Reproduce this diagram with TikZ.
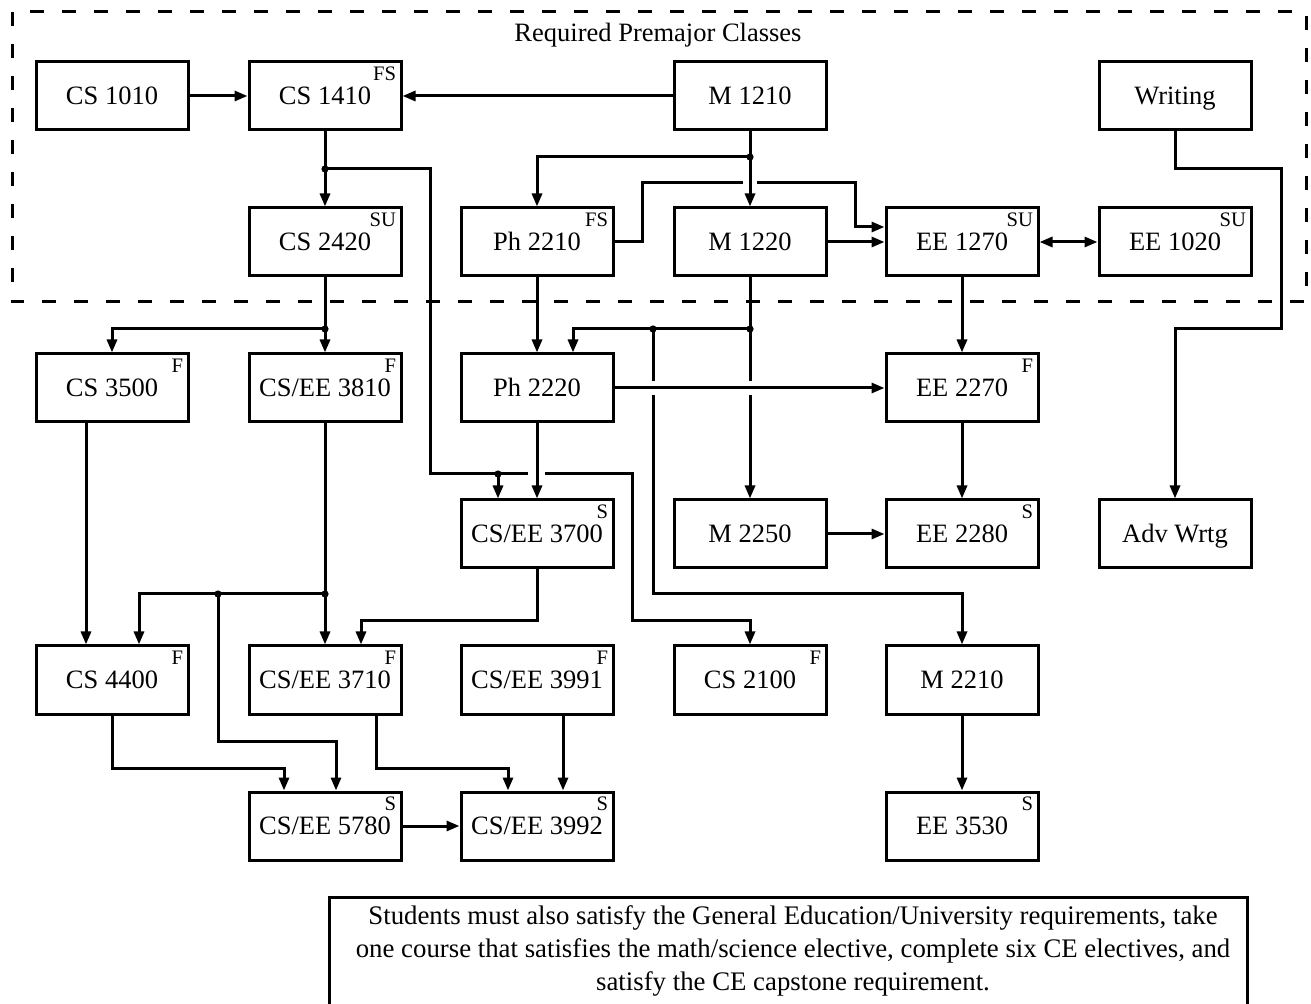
\documentclass[tikz,border=0pt]{standalone}
\usepackage{fontspec}
\setmainfont{Liberation Serif}
\usetikzlibrary{arrows.meta,calc}
\begin{document}
\begin{tikzpicture}[x=0.5pt,y=-0.5pt,
  every path/.style={line width=1.5pt},
  course/.style={draw, line width=1.5pt, minimum width=76pt, minimum height=34pt,
    inner sep=0pt, font=\fontsize{13.25}{15}\selectfont, text height=8.8pt, text depth=0pt},
  semlab/.style={anchor=north east, inner sep=0pt, font=\fontsize{10.3}{12}\selectfont,
    xshift=-2.5pt, yshift=-2.5pt},
  sem/.style={label={[semlab]north east:#1}},
  arr/.style={-{Triangle[length=6.5pt,width=5pt]}},
  darr/.style={{Triangle[length=6.5pt,width=5pt]}-{Triangle[length=6.5pt,width=5pt]}},
  dot/.style={circle, fill, inner sep=0pt, minimum size=3.6pt},
  premaj/.style={draw, dashed, dash pattern=on 7pt off 9pt, line width=1.5pt}
]
\useasboundingbox (0,0) rectangle (1311,1004);

% premajor region
\draw[premaj] (12,12) rectangle (1306,302);
\node[font=\fontsize{13.25}{15}\selectfont] (title) at (658,35) {Required Premajor Classes};

% courses
\node[course] (cs1010) at (112,96) {CS 1010};
\node[course,sem=FS] (cs1410) at (325,96) {CS 1410};
\node[course] (m1210) at (750,96) {M 1210};
\node[course] (writing) at (1175,96) {Writing};
\node[course,sem=SU] (cs2420) at (325,242) {CS 2420};
\node[course,sem=FS] (ph2210) at (537,242) {Ph 2210};
\node[course] (m1220) at (750,242) {M 1220};
\node[course,sem=SU] (ee1270) at (962,242) {EE 1270};
\node[course,sem=SU] (ee1020) at (1175,242) {EE 1020};
\node[course,sem=F] (cs3500) at (112,388) {CS 3500};
\node[course,sem=F] (cs3810) at (325,388) {CS/EE 3810};
\node[course] (ph2220) at (537,388) {Ph 2220};
\node[course,sem=F] (ee2270) at (962,388) {EE 2270};
\node[course,sem=S] (cs3700) at (537,534) {CS/EE 3700};
\node[course] (m2250) at (750,534) {M 2250};
\node[course,sem=S] (ee2280) at (962,534) {EE 2280};
\node[course] (advwrtg) at (1175,534) {Adv Wrtg};
\node[course,sem=F] (cs4400) at (112,680) {CS 4400};
\node[course,sem=F] (cs3710) at (325,680) {CS/EE 3710};
\node[course,sem=F] (cs3991) at (537,680) {CS/EE 3991};
\node[course,sem=F] (cs2100) at (750,680) {CS 2100};
\node[course] (m2210) at (962,680) {M 2210};
\node[course,sem=S] (cs5780) at (325,826) {CS/EE 5780};
\node[course,sem=S] (cs3992) at (537,826) {CS/EE 3992};
\node[course,sem=S] (ee3530) at (962,826) {EE 3530};

% junction dots
\node[dot] (d1) at (325,169) {};
\node[dot] (d2) at (498,474) {};
\node[dot] (d3) at (750,157) {};
\node[dot] (d4) at (325,329) {};
\node[dot] (d5) at (750,329) {};
\node[dot] (d6) at (653,329) {};
\node[dot] (d7) at (325,594) {};
\node[dot] (d8) at (218,594) {};

% connectors
\draw[arr] (cs1010) -- (cs1410);
\draw[arr] (m1210) -- (cs1410);
\draw[arr] (cs1410.south) -- (cs2420.north);
\draw (d1.center) -| (430,474) -- (528,474);
\draw[arr] (545,474) -| (632,621) -| (cs2100.north);
\draw[arr] (d2.center) -- (d2 |- cs3700.north);

\draw[arr] (m1210.south) -- (m1220.north);
\draw[arr] (d3.center) -| (ph2210.north);
\draw (ph2210.east) -| (642,183) -- (743,183);
\draw[arr] (757,183) -| (855,227) -- ($(ee1270.west)+(0,-15)$);
\draw[arr] (m1220) -- (ee1270);
\draw[darr] (ee1270) -- (ee1020);
\draw[arr] (writing.south) |- (1281,169) |- (1175,329) -- (advwrtg.north);

\draw[arr] (cs2420.south) -- (cs3810.north);
\draw[arr] (d4.center) -| (cs3500.north);
\draw[arr] (ph2210.south) -- (ph2220.north);
\draw (m1220.south) -- (750,381);
\draw[arr] (750,395) -- (m2250.north);
\draw[arr] (d5.center) -| ($(ph2220.north)+(36,0)$);
\draw (d6.center) -- (653,381);
\draw[arr] (653,395) |- (962,594) -- (m2210.north);
\draw[arr] (ph2220) -- (ee2270);
\draw[arr] (ph2220.south) -- (cs3700.north);
\draw[arr] (ee1270.south) -- (ee2270.north);
\draw[arr] (ee2270.south) -- (ee2280.north);
\draw[arr] (m2250) -- (ee2280);

\draw[arr] ($(cs3500.south)+(-26,0)$) -- ($(cs4400.north)+(-26,0)$);
\draw[arr] (cs3810.south) -- (cs3710.north);
\draw[arr] (d7.center) -| ($(cs4400.north)+(27,0)$);
\draw[arr] (d8.center) |- (336,741) -- ($(cs5780.north)+(11,0)$);
\draw[arr] (cs3700.south) |- (361,621) -- ($(cs3710.north)+(36,0)$);
\draw[arr] (cs4400.south) |- (284,768) -- ($(cs5780.north)+(-41,0)$);
\draw[arr] ($(cs3710.south)+(51,0)$) |- (508,768) -- ($(cs3992.north)+(-29,0)$);
\draw[arr] ($(cs3991.south)+(26,0)$) -- ($(cs3992.north)+(26,0)$);
\draw[arr] (cs5780) -- (cs3992);
\draw[arr] (m2210.south) -- (ee3530.north);

% note
\draw (329,1020) |- (1247,897) -- (1247,1020);
\node[align=center, font=\fontsize{13.4}{16.5}\selectfont] (note) at (793,951)
  {Students must also satisfy the General Education/University requirements, take\\
   one course that satisfies the math/science elective, complete six CE electives, and\\
   satisfy the CE capstone requirement.};
\end{tikzpicture}
\end{document}
